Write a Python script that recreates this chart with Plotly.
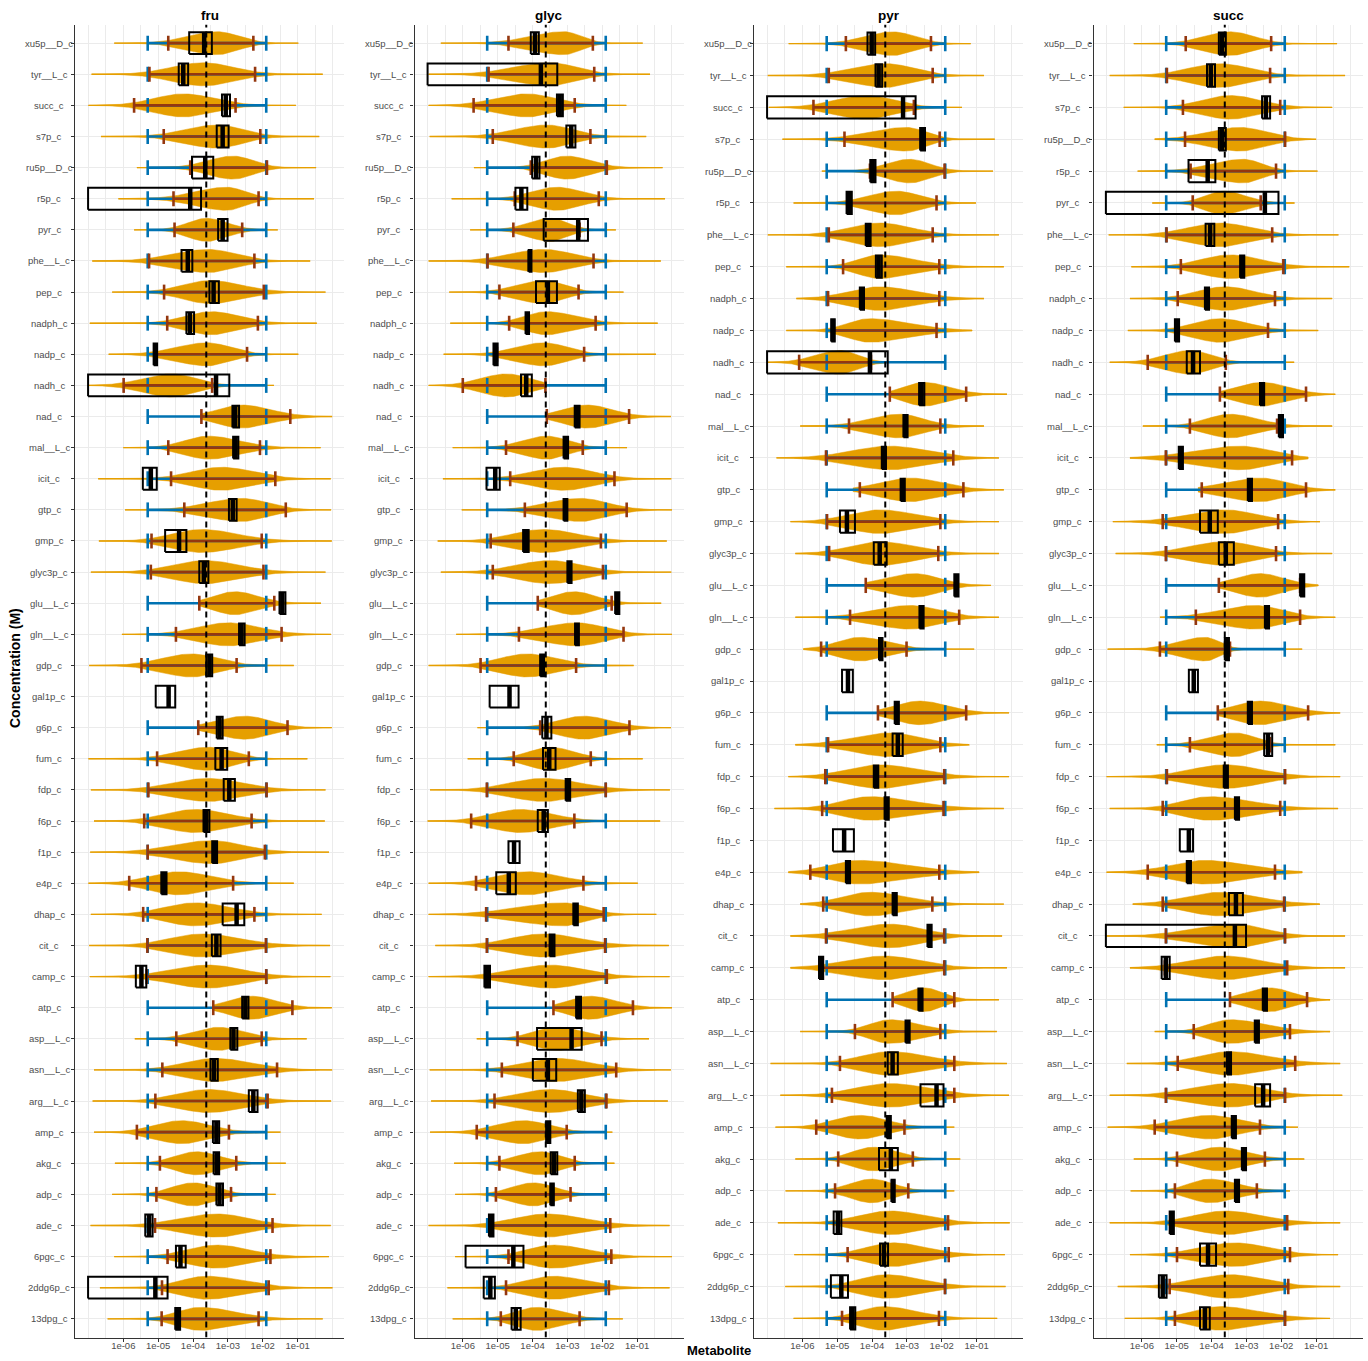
import numpy as np
import plotly.graph_objects as go

# ---------------- data: log10 of concentration (M) ----------------
names_fg = ["xu5p__D_c", "tyr__L_c", "succ_c", "s7p_c", "ru5p__D_c", "r5p_c", "pyr_c", "phe__L_c", "pep_c",
            "nadph_c", "nadp_c", "nadh_c", "nad_c", "mal__L_c", "icit_c", "gtp_c", "gmp_c", "glyc3p_c",
            "glu__L_c", "gln__L_c", "gdp_c", "gal1p_c", "g6p_c", "fum_c", "fdp_c", "f6p_c", "f1p_c", "e4p_c",
            "dhap_c", "cit_c", "camp_c", "atp_c", "asp__L_c", "asn__L_c", "arg__L_c", "amp_c", "akg_c",
            "adp_c", "ade_c", "6pgc_c", "2ddg6p_c", "13dpg_c"]
names_pyr = [n for n in names_fg if n != "pyr_c"]
names_succ = [n for n in names_fg if n != "succ_c"]

# fru
fru_tail_lo = [-6.26, -6.91, -7.0, -6.64, -5.61, -6.14, -5.69, -6.89, -6.32, -6.96, -6.42, -7.0, -3.80, -6.0,
               -6.72, -5.95, -6.70, -6.93, -3.82, -6.04, -6.98, None, -3.85, -7.0, -6.93, -6.84, -6.95, -7.0,
               -6.93, -6.98, -6.96, -3.42, -5.67, -6.84, -6.88, -6.84, -6.24, -6.32, -6.94, -6.26, -6.67, -6.45]
fru_tail_hi = [-0.98, -0.28, -1.05, -0.38, -0.47, -0.53, -1.57, -0.64, -0.20, -0.45, -0.98, -1.68, -0.01, -0.34,
               -0.05, -0.04, -0.02, -0.20, -0.33, -0.04, -1.11, None, -0.02, -0.72, -0.20, -0.22, -0.10, -1.11,
               -0.31, -0.07, -0.06, -0.02, -0.74, -0.01, -0.04, -1.49, -1.34, -1.63, -0.05, -0.10, 0.0, -0.28]
fru_ci_lo = [-4.71, -5.25, -5.69, -4.84, -4.08, -4.56, -4.53, -5.26, -4.83, -4.74, -5.09, -5.99, -3.76, -4.71,
             -4.63, -4.25, -5.19, -5.21, -3.82, -4.49, -5.48, None, -3.85, -5.03, -5.28, -5.40, -5.30, -5.83,
             -5.43, -5.31, -5.33, -3.42, -4.48, -4.88, -5.08, -5.61, -4.95, -5.05, -5.09, -4.73, -4.89, -4.90]
fru_ci_hi = [-2.27, -2.22, -2.78, -2.07, -1.88, -2.12, -2.59, -2.24, -1.97, -2.14, -2.45, -3.45, -1.21, -2.08,
             -1.64, -1.34, -2.03, -1.98, -1.67, -1.46, -2.75, None, -1.29, -2.40, -1.89, -2.32, -1.94, -2.85,
             -2.24, -1.91, -1.90, -1.15, -2.03, -1.59, -1.86, -2.97, -2.76, -2.91, -1.72, -1.78, -1.83, -2.12]
fru_mode = [-3.32, -3.71, -4.28, -3.32, -2.85, -3.04, -3.61, -3.56, -3.52, -3.47, -3.60, -4.61, -2.61, -3.56,
            -3.18, -2.61, -3.75, -3.66, -2.80, -2.99, -4.04, None, -2.51, -3.56, -3.56, -3.94, -3.47, -4.42,
            -3.94, -3.75, -3.56, -2.32, -3.28, -3.37, -3.56, -4.33, -3.90, -3.99, -3.32, -3.32, -3.61, -3.80]
fru_meas_lo = [-4.11, -4.41, -3.17, -3.32, -4.03, -7.01, -3.28, -4.33, -3.53, -4.19, -5.13, -7.01, -2.87, -2.85,
               -5.44, -2.97, -4.80, -3.82, -1.52, -2.68, -3.62, -5.07, -3.32, -3.36, -3.12, -3.70, -3.45, -4.91,
               -3.15, -3.46, -5.64, -2.59, -2.93, -3.50, -2.40, -3.43, -3.41, -3.33, -5.37, -4.49, -7.01, -4.51]
fru_meas_hi = [-3.46, -4.14, -2.94, -2.98, -3.42, -3.77, -3.01, -4.02, -3.26, -3.97, -5.03, -2.96, -2.68, -2.70,
               -5.04, -2.75, -4.19, -3.56, -1.35, -2.52, -3.45, -4.51, -3.15, -3.02, -2.80, -3.53, -3.31, -4.76,
               -2.53, -3.21, -5.34, -2.41, -2.73, -3.29, -2.15, -3.25, -3.25, -3.14, -5.16, -4.21, -4.73, -4.37]
fru_meas_med = [-3.68, -4.28, -3.06, -3.15, -3.65, -4.08, -3.15, -4.15, -3.41, -4.09, -5.08, -3.34, -2.79, -2.78,
                -5.21, -2.86, -4.40, -3.69, -1.44, -2.61, -3.53, -4.70, -3.24, -3.18, -2.96, -3.62, -3.38, -4.83,
                -2.75, -3.33, -5.48, -2.50, -2.84, -3.40, -2.27, -3.33, -3.32, -3.24, -5.26, -4.36, -5.08, -4.44]

# glyc
glyc_tail_lo = [-6.63, -6.98, -6.98, -6.95, -5.68, -6.32, -5.79, -6.98, -6.39, -6.36, -6.55, -6.98, -3.59, -6.29,
                -6.57, -6.03, -6.72, -6.63, -3.85, -6.19, -6.98, None, -5.58, -5.86, -6.94, -7.01, None, -6.98,
                -6.98, -6.79, -6.98, -3.40, -5.60, -6.95, -6.91, -6.94, -6.25, -6.22, -6.98, -6.22, -6.44, -6.29]
glyc_tail_hi = [-0.84, -0.63, -1.31, -0.74, -0.27, -0.20, -1.61, -0.32, -1.39, -0.41, -0.46, -3.63, -0.03, -1.29,
                -0.02, 0.0, -0.15, -0.02, -0.31, 0.0, -1.10, None, -0.03, -0.84, -0.06, -0.34, None, -0.98,
                -0.45, -0.09, -0.07, 0.0, -0.66, -0.03, -0.12, -1.71, -1.65, -1.78, -0.07, 0.0, -0.07, -1.41]
glyc_ci_lo = [-4.69, -5.26, -5.69, -5.14, -4.05, -4.51, -4.55, -5.29, -4.95, -4.67, -5.02, -6.0, -3.59, -4.76,
              -4.64, -4.22, -5.20, -5.14, -3.85, -4.39, -5.49, None, -3.78, -4.54, -5.31, -5.76, None, -5.62,
              -5.33, -5.31, -5.29, -3.40, -4.43, -4.88, -5.09, -5.60, -4.95, -5.05, -5.19, -4.69, -4.76, -4.91]
glyc_ci_hi = [-2.27, -2.23, -2.79, -2.34, -1.87, -2.10, -2.65, -2.25, -2.68, -2.19, -2.52, -3.63, -1.23, -2.56,
              -1.65, -1.30, -2.04, -1.98, -1.73, -1.39, -2.75, None, -1.22, -2.33, -1.90, -2.80, None, -2.54,
              -1.96, -1.92, -1.87, -1.12, -2.02, -1.60, -1.88, -3.02, -2.79, -2.91, -1.77, -1.74, -1.81, -2.65]
glyc_mode = [-3.11, -3.49, -4.16, -3.59, -3.02, -3.30, -3.49, -3.68, -3.68, -3.59, -3.68, -4.74, -2.44, -3.59,
             -3.11, -2.63, -3.68, -3.49, -2.82, -2.73, -4.16, None, -2.54, -3.49, -3.68, -4.35, None, -4.16,
             -3.11, -3.68, -3.49, -2.35, -3.30, -3.30, -3.49, -4.26, -3.78, -3.97, -3.59, -3.40, -3.40, -3.88]
glyc_meas_lo = [-4.05, -7.01, -3.30, -3.03, -4.01, -4.49, -3.68, -4.11, -3.90, -4.20, -5.12, -4.33, -2.79, -3.11,
                -5.32, -3.11, -4.27, -3.00, -1.63, -2.78, -3.78, -5.23, -3.72, -3.70, -3.05, -3.85, -4.69, -5.04,
                -2.83, -3.51, -5.38, -2.75, -3.87, -3.99, -2.70, -3.61, -3.48, -3.49, -5.25, -5.92, -5.40, -4.60]
glyc_meas_hi = [-3.82, -3.29, -3.13, -2.77, -3.80, -4.15, -2.41, -4.03, -3.30, -4.10, -5.00, -4.02, -2.65, -2.98,
                -4.94, -3.00, -4.11, -2.88, -1.51, -2.67, -3.67, -4.40, -3.46, -3.34, -2.92, -3.56, -4.37, -4.48,
                -2.70, -3.37, -5.22, -2.61, -2.59, -3.32, -2.50, -3.49, -3.29, -3.39, -5.12, -4.26, -5.08, -4.34]
glyc_meas_med = [-3.93, -3.76, -3.22, -2.89, -3.90, -4.32, -2.69, -4.08, -3.56, -4.14, -5.06, -4.18, -2.72, -3.04,
                 -5.07, -3.05, -4.19, -2.94, -1.57, -2.73, -3.73, -4.66, -3.60, -3.52, -2.99, -3.68, -4.53, -4.68,
                 -2.77, -3.45, -5.30, -2.68, -2.88, -3.56, -2.60, -3.55, -3.39, -3.44, -5.19, -4.55, -5.21, -4.48]

# pyr
pyr_tail_lo = [-6.39, -6.99, -6.96, -6.57, -5.44, -6.25, -6.99, -6.46, -6.17, -6.46, -7.0, -3.49, -6.06, -6.74,
               -4.55, -6.34, -6.2, -4.18, -6.2, -5.97, None, -3.83, -6.2, -6.4, -6.8, None, -6.4, -6.06, -6.34,
               -6.34, -3.41, -6.06, -6.91, -6.63, -6.77, -6.2, -6.48, -6.70, -6.23, -6.49, -6.25]
pyr_tail_hi = [-1.17, -0.79, -1.42, -0.48, -0.53, -1.02, -0.36, -0.22, -0.79, -1.13, -3.49, -0.13, -0.79, -0.36,
               -0.22, -0.36, -0.36, -0.59, -0.36, -1.07, None, -0.07, -1.21, -0.07, -0.22, None, -0.93, -0.22,
               -0.27, -0.13, -0.36, -0.42, -0.13, -0.07, -1.64, -1.47, -1.64, -0.05, -0.19, -0.17, -0.41]
pyr_ci_lo = [-4.75, -5.24, -5.68, -4.79, -4.06, -4.63, -5.24, -4.83, -5.26, -5.12, -6.09, -3.49, -4.66, -5.32,
             -4.35, -5.29, -5.23, -4.18, -4.63, -5.46, None, -3.83, -5.26, -5.34, -5.43, None, -5.77, -5.40,
             -5.32, -5.49, -3.41, -4.49, -4.92, -5.15, -5.6, -4.97, -5.06, -4.97, -4.70, -4.91, -4.86]
pyr_ci_hi = [-2.31, -2.26, -2.80, -2.06, -1.92, -2.15, -2.26, -2.07, -2.07, -2.15, -4.03, -1.30, -2.04, -1.67,
             -1.38, -2.04, -2.10, -1.58, -1.50, -3.01, None, -1.30, -2.04, -1.93, -1.95, None, -2.07, -2.27,
             -1.93, -1.93, -1.64, -2.04, -1.64, -1.64, -3.07, -2.83, -2.96, -1.82, -1.80, -1.91, -2.08]
pyr_mode = [-3.41, -3.59, -4.16, -3.02, -2.92, -3.30, -3.78, -3.78, -3.78, -4.06, -4.92, -2.50, -3.21, -3.49,
            -2.92, -3.78, -3.78, -2.78, -2.92, -4.35, None, -2.64, -3.49, -3.78, -4.06, None, -4.35, -4.06,
            -3.49, -3.64, -2.50, -3.49, -3.49, -3.49, -4.35, -3.97, -4.01, -3.49, -3.40, -3.59, -3.68]
pyr_meas_lo = [-4.13, -3.90, -7.01, -2.62, -4.05, -4.73, -4.18, -3.89, -4.35, -5.17, -7.01, -2.65, -3.10, -3.72,
               -3.18, -4.92, -3.95, -1.64, -2.64, -3.80, -4.86, -3.35, -3.41, -3.95, -3.64, -5.12, -4.75, -3.41,
               -2.41, -5.52, -2.67, -3.04, -3.55, -2.61, -3.58, -3.80, -3.44, -5.10, -3.77, -5.18, -4.63]
pyr_meas_hi = [-3.91, -3.71, -2.75, -2.48, -3.90, -4.58, -4.04, -3.72, -4.23, -5.07, -3.55, -2.50, -2.98, -3.60,
               -3.06, -4.49, -3.58, -1.52, -2.52, -3.70, -4.55, -3.23, -3.12, -3.82, -3.52, -4.52, -4.63, -3.29,
               -2.29, -5.40, -2.55, -2.92, -3.26, -1.95, -3.46, -3.26, -3.35, -4.88, -3.54, -4.69, -4.48]
pyr_meas_med = [-4.01, -3.81, -3.11, -2.55, -3.98, -4.66, -4.11, -3.81, -4.29, -5.12, -4.06, -2.58, -3.04, -3.66,
                -3.12, -4.72, -3.78, -1.58, -2.58, -3.75, -4.69, -3.29, -3.26, -3.89, -3.58, -4.80, -4.69, -3.35,
                -2.35, -5.46, -2.61, -2.98, -3.41, -2.15, -3.52, -3.46, -3.40, -4.98, -3.66, -4.88, -4.56]

# succ
succ_tail_lo = [-6.23, -6.92, -6.52, -5.63, -6.12, -5.70, -6.95, -6.30, -6.34, -6.40, -6.92, -3.76, -5.97, -6.34,
                -4.39, -6.83, -6.75, -3.79, -5.48, -6.98, None, -3.82, -5.57, -7.01, -6.92, None, -7.01, -6.26,
                -7.03, -6.34, -3.47, -5.63, -6.43, -6.92, -6.98, -6.23, -6.32, -6.92, -6.34, -6.69, -6.49]
succ_tail_hi = [-0.40, -0.17, -0.54, -1.00, -0.96, -1.62, -0.36, -0.05, -0.54, -0.94, -1.63, -0.45, -0.54, -1.23,
                -0.45, -0.89, -0.54, -0.94, -0.45, -1.40, None, -0.31, -0.45, -0.31, -0.37, None, -1.40, -0.89,
                -0.17, -0.17, -0.60, -0.60, -0.31, -0.25, -1.52, -1.34, -1.75, -0.31, -0.37, -0.31, -0.60]
succ_ci_lo = [-4.74, -5.28, -4.82, -4.76, -4.60, -4.54, -5.29, -4.88, -4.97, -5.02, -5.83, -3.76, -4.62, -5.31,
              -4.28, -5.40, -5.31, -3.79, -4.45, -5.48, None, -3.82, -4.62, -5.28, -5.40, None, -5.83, -5.40,
              -5.31, -5.34, -3.47, -4.51, -4.97, -5.31, -5.63, -4.99, -5.05, -5.14, -4.99, -5.20, -5.05]
succ_ci_hi = [-2.29, -2.32, -2.03, -1.89, -2.15, -2.59, -2.26, -1.94, -2.18, -2.38, -3.59, -1.29, -2.12, -1.69,
              -1.29, -2.09, -2.15, -1.46, -1.46, -3.47, None, -1.23, -2.32, -1.89, -2.03, None, -2.18, -1.92,
              -1.89, -1.83, -1.26, -1.75, -1.60, -1.89, -2.61, -2.47, -2.70, -1.83, -1.75, -1.80, -1.89]
succ_mode = [-3.47, -3.76, -3.47, -3.18, -3.09, -3.66, -3.76, -3.47, -3.61, -3.76, -4.62, -2.55, -3.47, -3.18,
             -2.61, -3.61, -3.61, -2.61, -2.75, -4.19, None, -2.61, -3.33, -3.61, -4.05, None, -4.19, -3.76,
             -3.33, -3.61, -2.32, -3.47, -3.47, -3.47, -4.05, -3.79, -4.05, -3.61, -3.33, -3.47, -3.76]
succ_meas_lo = [-3.79, -4.13, -2.55, -3.79, -4.66, -7.03, -4.17, -3.18, -4.19, -5.05, -4.71, -2.61, -2.07, -4.94,
                -2.96, -4.33, -3.79, -1.46, -2.47, -3.62, -4.65, -2.96, -2.49, -3.65, -3.33, -4.91, -4.71, -3.50,
                -7.03, -5.43, -2.53, -2.76, -3.56, -2.75, -3.42, -3.13, -3.33, -5.20, -4.33, -5.51, -4.33]
succ_meas_hi = [-3.59, -3.90, -2.32, -3.59, -3.89, -2.08, -3.92, -3.06, -4.07, -4.93, -4.33, -2.49, -1.95, -4.82,
                -2.84, -3.82, -3.36, -1.34, -2.35, -3.50, -4.39, -2.84, -2.26, -3.53, -3.21, -4.53, -4.59, -3.10,
                -3.01, -5.20, -2.41, -2.64, -3.44, -2.32, -3.30, -3.01, -3.21, -5.08, -3.87, -5.29, -4.05]
succ_meas_med = [-3.70, -4.02, -2.44, -3.70, -4.11, -2.47, -4.04, -3.12, -4.13, -4.99, -4.53, -2.55, -2.01, -4.88,
                 -2.90, -4.05, -3.59, -1.40, -2.41, -3.56, -4.51, -2.90, -2.38, -3.59, -3.27, -4.65, -4.65, -3.30,
                 -3.33, -5.31, -2.47, -2.70, -3.50, -2.52, -3.36, -3.07, -3.27, -5.14, -4.10, -5.40, -4.19]

panel_titles = ["fru", "glyc", "pyr", "succ"]
x_tick_exp = [-6, -5, -4, -3, -2, -1]
x_tick_text = ["1e-06", "1e-05", "1e-04", "1e-03", "1e-02", "1e-01"]
prior_bounds = (-5.3, -1.9)
reference_level = -3.62

# ---------------- styling / layout ----------------
W, H = 1368, 1361
ORANGE, BLUE, RED, BLACK = "#E69F00", "#0072B2", "#94370F", "#000000"
GRID, AXIS, TXT = "#EBEBEB", "#333333", "#4D4D4D"
FONT = "Liberation Sans, Arial, sans-serif"
X_RANGE = [-7.385, 0.33]
PANEL_LEFT = [75, 414.5, 754, 1093.5]
PANEL_W = 269
Y_TOP, Y_BOT = 24.5, 1337.5
VIOLIN_HALF, BOX_HALF, CAP_HALF = 0.37, 0.35, 0.24

panels = [
    (names_fg, fru_tail_lo, fru_tail_hi, fru_ci_lo, fru_ci_hi, fru_mode, fru_meas_lo, fru_meas_hi, fru_meas_med),
    (names_fg, glyc_tail_lo, glyc_tail_hi, glyc_ci_lo, glyc_ci_hi, glyc_mode, glyc_meas_lo, glyc_meas_hi, glyc_meas_med),
    (names_pyr, pyr_tail_lo, pyr_tail_hi, pyr_ci_lo, pyr_ci_hi, pyr_mode, pyr_meas_lo, pyr_meas_hi, pyr_meas_med),
    (names_succ, succ_tail_lo, succ_tail_hi, succ_ci_lo, succ_ci_hi, succ_mode, succ_meas_lo, succ_meas_hi, succ_meas_med),
]

fig = go.Figure()
annotations = []
layout = dict(width=W, height=H, autosize=False, margin=dict(l=0, r=0, t=0, b=0),
              paper_bgcolor="white", plot_bgcolor="white", showlegend=False,
              font=dict(family=FONT, color=TXT))


def seg(xl, yl, x0, x1, y0, y1):
    xl += [10 ** x0, 10 ** x1, None]
    yl += [y0, y1, None]


for k, (names, tlo, thi, clo, chi, mode, mlo, mhi, mmed) in enumerate(panels):
    n = len(names)
    sfx = "" if k == 0 else str(k + 1)
    xa, ya = "x" + sfx, "y" + sfx
    vx, vy, tx, ty, bx, by, rx, ry, qx, qy, mx, my = ([] for _ in range(12))
    for i in range(n):
        r = n - i
        if mode[i] is not None:
            g = np.linspace(tlo[i], thi[i], 160)
            sl = max((mode[i] - clo[i]) / 1.7, 0.05)
            sr = max((chi[i] - mode[i]) / 1.7, 0.05)
            d = np.where(g < mode[i], np.exp(-0.5 * ((g - mode[i]) / sl) ** 2),
                         np.exp(-0.5 * ((g - mode[i]) / sr) ** 2))
            h = VIOLIN_HALF * d
            vx += list(10 ** np.concatenate([g, g[::-1]])) + [None]
            vy += list(np.concatenate([r + h, (r - h)[::-1]])) + [None]
            seg(tx, ty, tlo[i], thi[i], r, r)
            p0, p1 = prior_bounds
            seg(bx, by, p0, p1, r, r)
            seg(bx, by, p0, p0, r - CAP_HALF, r + CAP_HALF)
            seg(bx, by, p1, p1, r - CAP_HALF, r + CAP_HALF)
            seg(rx, ry, clo[i], chi[i], r, r)
            seg(rx, ry, clo[i], clo[i], r - CAP_HALF, r + CAP_HALF)
            seg(rx, ry, chi[i], chi[i], r - CAP_HALF, r + CAP_HALF)
        a, b = mlo[i], mhi[i]
        qx += [10 ** a, 10 ** b, 10 ** b, 10 ** a, 10 ** a, None]
        qy += [r - BOX_HALF, r - BOX_HALF, r + BOX_HALF, r + BOX_HALF, r - BOX_HALF, None]
        seg(mx, my, mmed[i], mmed[i], r - BOX_HALF, r + BOX_HALF)
        annotations.append(dict(x=(PANEL_LEFT[k] - 26) / W, xref="paper", y=r, yref=ya, text=names[i],
                                showarrow=False, xanchor="center", yanchor="middle",
                                font=dict(size=9.5, color=TXT, family=FONT)))
    common = dict(xaxis=xa, yaxis=ya, hoverinfo="skip", showlegend=False)
    fig.add_trace(go.Scatter(x=vx, y=vy, mode="lines", fill="toself", fillcolor=ORANGE,
                             line=dict(color=ORANGE, width=0.5), **common))
    fig.add_trace(go.Scatter(x=tx, y=ty, mode="lines", line=dict(color=ORANGE, width=1.4), **common))
    fig.add_trace(go.Scatter(x=bx, y=by, mode="lines", line=dict(color=BLUE, width=2.6), **common))
    fig.add_trace(go.Scatter(x=rx, y=ry, mode="lines", line=dict(color=RED, width=2.6), **common))
    fig.add_trace(go.Scatter(x=[10 ** reference_level] * 2, y=[0.4, n + 0.6], mode="lines",
                             line=dict(color=BLACK, width=2, dash="6px,4px"), **common))
    fig.add_trace(go.Scatter(x=qx, y=qy, mode="lines", line=dict(color=BLACK, width=2), **common))
    fig.add_trace(go.Scatter(x=mx, y=my, mode="lines", line=dict(color=BLACK, width=4.5), **common))

    x0 = PANEL_LEFT[k] / W
    x1 = (PANEL_LEFT[k] + PANEL_W) / W
    minor_vals = [10 ** (e / 2) for e in range(-14, 1) if e % 2 != 0 or e in (-14, 0)]
    layout["xaxis" + sfx] = dict(
        type="log", range=X_RANGE, domain=[x0, x1], anchor=ya,
        tickmode="array", tickvals=[10 ** e for e in x_tick_exp], ticktext=x_tick_text,
        ticks="outside", ticklen=3, tickcolor=AXIS, tickwidth=1, ticklabelstandoff=-4,
        tickfont=dict(size=9.5, color=TXT, family=FONT),
        showline=True, linecolor=AXIS, linewidth=1.2, mirror=False,
        showgrid=True, gridcolor=GRID, gridwidth=1, zeroline=False,
        minor=dict(tickmode="array", tickvals=minor_vals, showgrid=True, gridcolor=GRID, gridwidth=0.8,
                   ticks=""),
    )
    layout["yaxis" + sfx] = dict(
        range=[0.4, n + 0.6], domain=[1 - Y_BOT / H, 1 - Y_TOP / H], anchor=xa,
        tickmode="array", tickvals=list(range(1, n + 1)), showticklabels=False,
        ticks="outside", ticklen=3, tickcolor=AXIS, tickwidth=1,
        showline=True, linecolor=AXIS, linewidth=1.2,
        showgrid=True, gridcolor=GRID, gridwidth=1, zeroline=False,
    )
    annotations.append(dict(x=(x0 + x1) / 2, xref="paper", y=1 - 16 / H, yref="paper",
                            text="<b>%s</b>" % panel_titles[k], showarrow=False,
                            xanchor="center", yanchor="middle",
                            font=dict(size=13.5, color="black", family=FONT)))

annotations.append(dict(x=15 / W, xref="paper", y=1 - 668 / H, yref="paper", text="<b>Concentration (M)</b>",
                        textangle=-90, showarrow=False, xanchor="center", yanchor="middle",
                        font=dict(size=14, color="black", family=FONT)))
annotations.append(dict(x=719 / W, xref="paper", y=1 - 1360 / H, yref="paper", text="<b>Metabolite</b>",
                        showarrow=False, xanchor="center", yanchor="bottom",
                        font=dict(size=13, color="black", family=FONT)))
layout["annotations"] = annotations
fig.update_layout(**layout)
fig.write_html("out.html", config={"displayModeBar": False},
               post_script="document.body.style.margin='0px';")
